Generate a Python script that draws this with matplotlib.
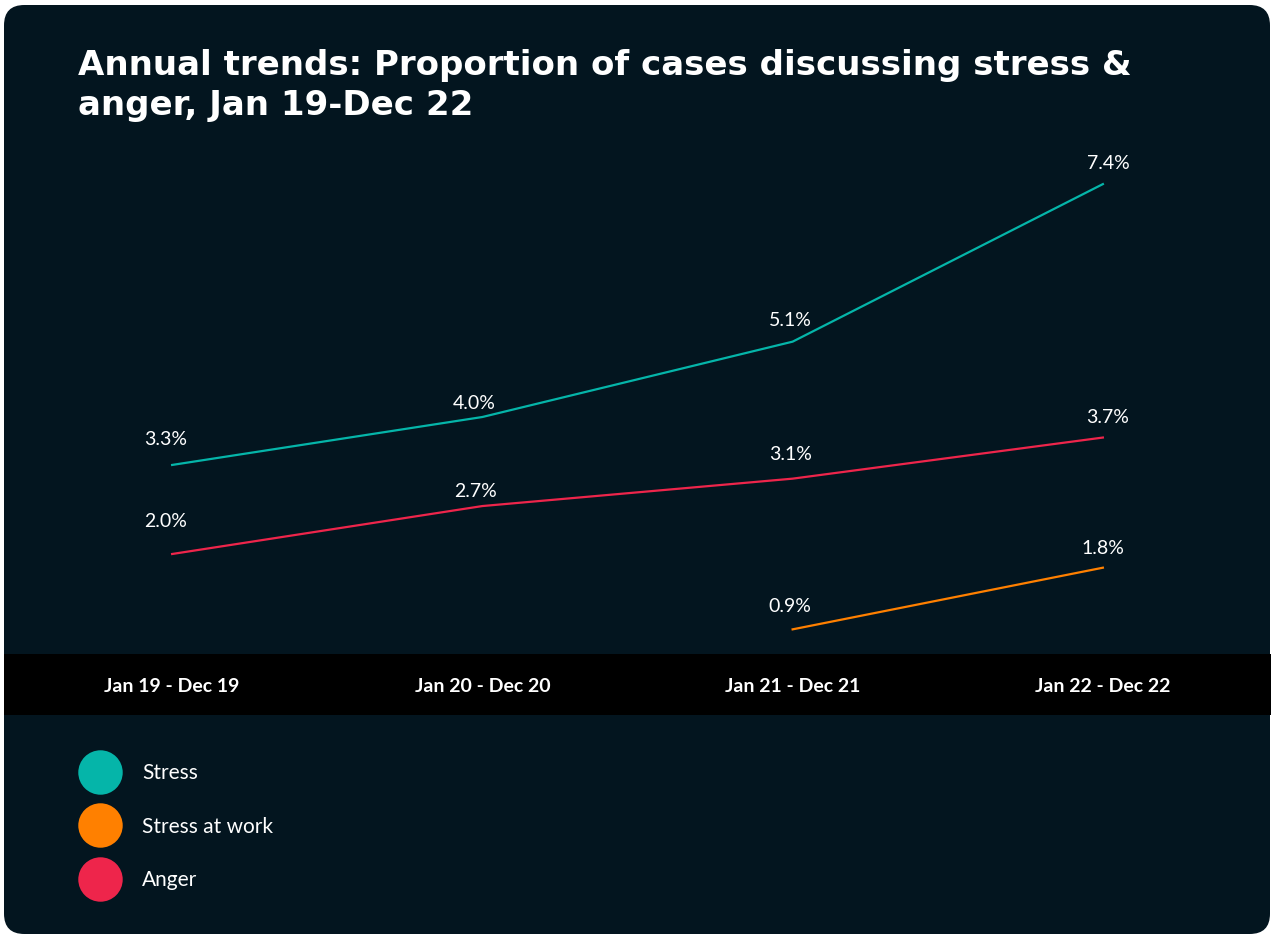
import matplotlib
matplotlib.use("Agg")
import matplotlib.pyplot as plt
import numpy as np
from matplotlib.patches import FancyBboxPatch, Rectangle
from matplotlib.lines import Line2D
from matplotlib.transforms import blended_transform_factory

periods = ["Jan 19 - Dec 19", "Jan 20 - Dec 20", "Jan 21 - Dec 21", "Jan 22 - Dec 22"]
stress = [3.3, 4.0, 5.1, 7.4]
stress_at_work = [np.nan, np.nan, 0.9, 1.8]
anger = [2.0, 2.7, 3.1, 3.7]
series_names = ["Stress", "Stress at work", "Anger"]
title = "Annual trends: Proportion of cases discussing stress &\nanger, Jan 19-Dec 22"

BG = "#03151f"
COLORS = {"Stress": "#05b5a9", "Stress at work": "#ff8000", "Anger": "#ee254b"}
FONT = ["Lato", "DejaVu Sans"]

W, H = 1271, 935
fig = plt.figure(figsize=(W / 100, H / 100), dpi=100, facecolor="white")

# card
card = FancyBboxPatch((4 / W, 1 / H), (W - 5) / W, (H - 6) / H,
                      boxstyle="round,pad=0,rounding_size=0.016",
                      transform=fig.transFigure, facecolor=BG, edgecolor="none",
                      mutation_aspect=W / H, zorder=0)
fig.patches.append(card)
band = Rectangle((4 / W, (H - 715) / H), (W - 4) / W, 61 / H, transform=fig.transFigure,
                 facecolor="black", edgecolor="none", zorder=0.5)
fig.patches.append(band)

# axes: x index -0.5..3.5 -> px 17..1258 ; y 0..8 -> px 691..143
ax = fig.add_axes([17 / W, (H - 691) / H, 1241 / W, 548 / H])
ax.set_zorder(5)
ax.set_xlim(-0.5, 3.5)
ax.set_ylim(0, 8)
ax.axis("off")
ax.patch.set_visible(False)

x = np.arange(len(periods))
data = {"Stress": stress, "Stress at work": stress_at_work, "Anger": anger}
offsets = {
    "Stress": [(-5, 12), (-6, 3.6), (-1.5, 9.4), (3.6, 8.6)],
    "Stress at work": [(0, 0), (0, 0), (-2, 10), (0, 8)],
    "Anger": [(-4.5, 17), (-5, 4.3), (-1.5, 11.5), (3.6, 8)],
}
for name in series_names:
    vals = data[name]
    ax.plot(x, vals, color=COLORS[name], lw=1.6, clip_on=False, zorder=3)
    for i, v in enumerate(vals):
        if np.isnan(v):
            continue
        ax.annotate(f"{v:.1f}%", (x[i], v), xytext=offsets[name][i], textcoords="offset points",
                    ha="center", va="bottom", color="white", fontsize=14, family=FONT)

tr = blended_transform_factory(ax.transData, fig.transFigure)
for i, p in enumerate(periods):
    ax.text(x[i], (H - 686) / H, p, transform=tr, ha="center", va="center",
            color="white", fontsize=14, fontweight="bold", family=FONT)

fig.text(78 / W, (H - 49) / H, title, ha="left", va="top", color="white",
         fontsize=24.5, fontweight="bold", family=["DejaVu Sans"], linespacing=1.25)

handles = [Line2D([], [], marker="o", linestyle="", markersize=32,
                  markerfacecolor=COLORS[n], markeredgecolor="none") for n in series_names]
leg = fig.legend(handles, series_names, loc="upper left", bbox_to_anchor=(76 / W, (H - 755) / H),
                 frameon=False, labelspacing=1.6, handletextpad=1.27, borderaxespad=0,
                 prop={"family": FONT, "size": 15}, labelcolor="white", handlelength=1.5)

fig.savefig("out.png", dpi=100, facecolor="white")
